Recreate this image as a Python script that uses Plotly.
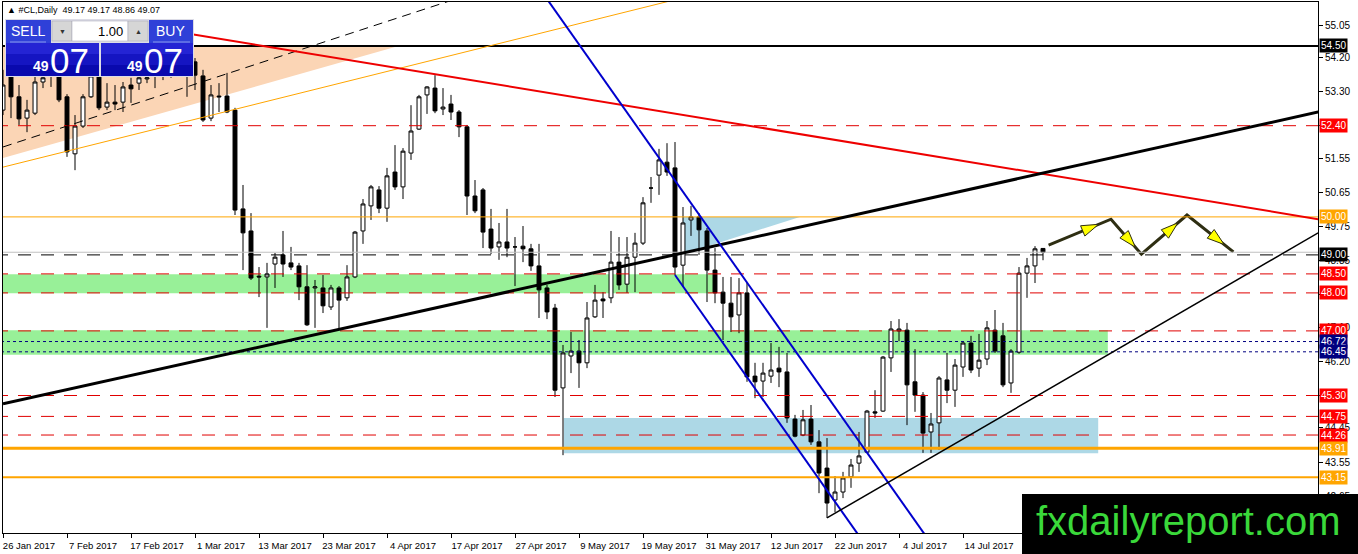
import math
import plotly.graph_objects as go

# daily bars, index 0 = 26 Jan 2017 (one bar per trading day)
opens = [52.81, 53.87, 53.16, 52.60, 52.73, 53.55, 53.97, 53.81, 53.16, 51.66,
         52.39, 53.16, 53.76, 52.89, 53.02, 53.02, 53.47, 53.52, 53.63, 53.87,
         53.73, 53.97, 53.87, 54.13, 54.08, 53.71, 52.60, 53.18, 53.18, 52.81,
         50.21, 49.63, 48.44, 48.42, 48.76, 49.00, 48.79, 48.71, 48.16, 48.13,
         48.13, 47.63, 48.13, 47.87, 48.42, 49.63, 50.29, 50.71, 50.23, 51.18,
         50.79, 51.68, 52.31, 53.21, 53.39, 52.84, 52.97, 52.76, 52.37, 50.55,
         50.71, 49.68, 49.21, 49.34, 49.21, 49.23, 49.16, 48.71, 48.13, 47.60,
         45.50, 46.34, 46.47, 46.16, 47.37, 47.84, 47.87, 48.81, 48.23, 48.94,
         49.31, 50.76, 51.10, 51.44, 51.29, 48.73, 49.92, 50.00, 49.63, 48.60,
         48.02, 47.73, 47.42, 48.00, 45.81, 45.68, 45.81, 46.02, 45.92, 44.68,
         44.26, 44.68, 44.08, 43.39, 42.55, 42.76, 43.16, 43.52, 43.81, 44.87,
         44.89, 46.29, 47.00, 47.02, 45.66, 45.31, 44.34, 44.58, 45.71, 45.44,
         46.05, 46.68, 46.02, 46.26, 47.02, 46.87, 45.63, 46.44, 48.52, 48.71,
         49.17]
highs = [53.87, 54.08, 53.47, 53.08, 53.73, 53.92, 54.13, 54.08, 53.23, 52.68,
         53.23, 53.92, 53.87, 53.52, 53.47, 53.55, 53.66, 53.81, 53.87, 54.00,
         54.08, 54.13, 54.26, 54.26, 54.18, 53.87, 53.47, 53.52, 53.79, 52.87,
         50.84, 50.10, 48.68, 48.79, 49.05, 49.63, 49.21, 48.79, 48.73, 48.34,
         48.47, 48.21, 48.18, 48.73, 49.63, 50.47, 50.84, 50.81, 51.29, 51.89,
         51.81, 52.94, 53.21, 53.44, 53.73, 53.39, 53.21, 52.81, 52.42, 50.97,
         50.76, 50.21, 49.84, 50.21, 49.47, 49.76, 49.29, 49.29, 48.21, 47.71,
         46.63, 46.97, 46.76, 47.76, 48.21, 48.02, 49.63, 49.47, 49.47, 49.58,
         50.52, 51.05, 51.79, 51.94, 51.97, 50.26, 50.29, 50.10, 49.71, 49.18,
         48.42, 48.42, 48.39, 48.26, 46.16, 46.16, 46.68, 46.58, 46.42, 44.79,
         44.92, 45.05, 44.39, 44.18, 43.18, 43.29, 43.63, 44.34, 44.92, 45.44,
         46.34, 47.26, 47.31, 47.21, 46.52, 45.39, 44.84, 45.81, 46.42, 46.26,
         46.73, 46.87, 46.92, 47.26, 47.55, 47.21, 46.52, 48.68, 48.92, 49.23,
         49.17]
lows = [52.68, 52.60, 52.42, 52.23, 52.68, 53.39, 53.42, 53.02, 51.58, 51.23,
        52.34, 53.13, 52.81, 52.81, 52.81, 52.76, 53.00, 53.34, 53.52, 53.39,
        53.60, 53.66, 53.73, 53.16, 53.34, 52.50, 52.52, 52.76, 52.73, 50.05,
        48.60, 48.34, 47.89, 47.08, 48.13, 48.42, 48.60, 47.81, 47.13, 47.08,
        47.47, 47.55, 47.02, 47.79, 48.39, 49.29, 49.92, 50.10, 49.87, 50.71,
        50.47, 51.50, 52.29, 52.71, 52.73, 52.68, 52.55, 52.10, 50.05, 50.10,
        49.18, 49.02, 48.87, 48.94, 48.18, 48.81, 48.58, 47.34, 47.31, 45.26,
        43.73, 45.89, 45.50, 46.02, 47.34, 47.34, 47.73, 48.08, 48.00, 48.02,
        49.26, 50.37, 50.58, 51.08, 48.47, 48.16, 49.50, 49.00, 47.76, 47.73,
        46.76, 46.97, 46.94, 45.66, 45.23, 45.26, 45.63, 45.52, 44.58, 44.20,
        44.23, 44.00, 42.73, 42.08, 42.23, 42.60, 42.87, 43.29, 43.79, 44.71,
        44.87, 45.92, 46.73, 44.52, 44.87, 43.79, 43.79, 43.87, 45.10, 45.00,
        45.79, 45.89, 45.79, 46.10, 46.42, 45.52, 45.37, 46.40, 47.87, 48.26,
        48.86]
closes = [53.47, 53.16, 52.58, 52.81, 53.55, 53.66, 53.71, 53.08, 51.71, 52.39,
          53.16, 53.71, 52.87, 53.02, 52.97, 53.42, 53.37, 53.66, 53.66, 53.76,
          53.92, 53.81, 54.08, 53.87, 53.73, 52.55, 53.21, 53.16, 52.76, 50.18,
          49.58, 48.39, 48.42, 48.50, 48.94, 48.76, 48.68, 48.16, 47.16, 48.16,
          47.66, 48.13, 47.81, 48.42, 49.60, 50.34, 50.79, 50.23, 51.08, 50.79,
          51.73, 52.26, 53.16, 53.42, 52.79, 52.89, 52.76, 52.37, 50.55, 50.16,
          49.60, 49.18, 49.34, 49.18, 49.21, 49.16, 48.71, 48.08, 47.50, 45.44,
          46.42, 46.47, 46.16, 47.34, 47.81, 47.79, 48.81, 48.21, 48.94, 49.31,
          50.37, 50.76, 51.50, 51.18, 48.68, 49.84, 50.00, 49.66, 48.60, 48.00,
          47.73, 47.37, 48.00, 45.79, 45.66, 45.89, 45.97, 45.92, 44.71, 44.23,
          44.66, 44.08, 43.26, 42.47, 42.76, 43.13, 43.47, 43.71, 44.89, 44.84,
          46.31, 47.05, 47.05, 45.58, 45.31, 44.31, 44.55, 45.76, 45.44, 46.10,
          46.68, 45.97, 46.23, 47.08, 46.47, 45.58, 46.47, 48.52, 48.71, 49.16,
          49.07]

date_ticks = [0, 8, 16, 24, 32, 40, 48, 56, 64, 72, 80, 88, 96, 104, 112, 120]
date_labels = ["26 Jan 2017", "7 Feb 2017", "17 Feb 2017", "1 Mar 2017", "13 Mar 2017",
               "23 Mar 2017", "4 Apr 2017", "17 Apr 2017", "27 Apr 2017", "9 May 2017",
               "19 May 2017", "31 May 2017", "12 Jun 2017", "22 Jun 2017", "4 Jul 2017",
               "14 Jul 2017"]
price_ticks = [55.05, 54.20, 53.30, 52.40, 51.55, 50.65, 49.75, 48.85, 47.95,
               47.10, 46.20, 45.30, 44.45, 43.55, 42.65]
hidden_ticks = [52.40, 47.95, 45.30]   # fully covered by level labels

# horizontal levels
resist_level = 54.50
red_levels = [52.40, 48.50, 48.00, 47.00, 45.30, 44.75, 44.26]
blue_levels = [46.72, 46.45]
orange_levels = [43.91, 43.15]
level_50 = 50.00
level_49 = 49.00
bid = 49.07

# drawn objects: (bar, price) end points
red_trend = [(20, 54.93), (164.4, 49.94)]
black_trend = [(0, 45.08), (164.4, 52.76)]
dash_trend = [(0, 51.84), (60, 55.97)]
orange_trend = [(0, 51.31), (90, 56.03)]
channel_a = [(66, 56.33), (116, 41.41)]
channel_b = [(84, 48.47), (108, 41.31)]
support_trend = [(103, 42.08), (164.4, 49.58)]
peach_tri = [(-1, 54.47), (49, 54.47), (-1, 51.49)]
cyan_tri = [(85, 50.00), (99.6, 50.00), (85, 49.02)]
green_zones = [(-1, 89, 47.99, 48.49), (-1, 138.1, 46.37, 47.02)]
cyan_zone = (70.1, 136.9, 43.78, 44.71)
path_x = [130.7, 138.5, 142.3, 148.0, 153.8]
path_y = [49.26, 49.94, 49.02, 50.05, 49.08]

W, H = 1358, 554
ML, MR, MT, MB = 3, 40, 2, 21
PW, PH = W - ML - MR, H - MT - MB
X_RANGE = [0, PW / 8.0]
Y_RANGE = [55.708 - (MT + PH) / 38.0, 55.708 - MT / 38.0]
FONT = "Liberation Sans, Arial, sans-serif"


def px(x):
    return (x - ML) / PW


def py(y):
    return (H - MB - y) / PH


fig = go.Figure()

fig.add_trace(go.Candlestick(
    x=list(range(len(opens))), open=opens, high=highs, low=lows, close=closes,
    increasing=dict(line=dict(color="black", width=1), fillcolor="white"),
    decreasing=dict(line=dict(color="black", width=1), fillcolor="black"),
    whiskerwidth=0, showlegend=False, hoverinfo="skip"))

# background zones
for x0, x1, y0, y1 in green_zones:
    fig.add_shape(type="rect", x0=x0, x1=x1, y0=y0, y1=y1, fillcolor="#98F098",
                  line_width=0, layer="below")
fig.add_shape(type="rect", x0=cyan_zone[0], x1=cyan_zone[1], y0=cyan_zone[2], y1=cyan_zone[3],
              fillcolor="#ADD8E6", line_width=0, layer="below")


def tri_path(pts):
    return "M " + " L ".join(f"{a},{b}" for a, b in pts) + " Z"


fig.add_shape(type="path", path=tri_path(peach_tri), fillcolor="#FBD5B5", line_width=0, layer="below")
fig.add_shape(type="path", path=tri_path(cyan_tri), fillcolor="#ADD8E6", line_width=0, layer="below")


# horizontal lines
def hline(level, color, width=1, dash="solid"):
    fig.add_shape(type="line", x0=X_RANGE[0] - 1, x1=X_RANGE[1] + 1, y0=level, y1=level,
                  line=dict(color=color, width=width, dash=dash))


for lv in red_levels:
    hline(lv, "#E00000", 1, "13px,10px")
for lv in blue_levels:
    hline(lv, "#000080", 1, "3px,3px")
hline(orange_levels[0], "#FFA500", 3)
hline(orange_levels[1], "#FFA500", 2)
hline(level_50, "#FFA500", 1)
hline(bid, "#C0C0C0", 1)
hline(level_49, "black", 1, "13px,10px")
hline(resist_level, "black", 2)


# trend lines
def seg(pts, color, width, dash="solid"):
    (a, b), (c, d) = pts
    fig.add_shape(type="line", x0=a, y0=b, x1=c, y1=d, line=dict(color=color, width=width, dash=dash))


seg(dash_trend, "black", 1, "9px,6px")
seg(orange_trend, "#FFA500", 1)
seg(red_trend, "#EE0000", 2)
seg(black_trend, "black", 3)
seg(channel_a, "#0000CD", 2)
seg(channel_b, "#0000CD", 2)
seg(support_trend, "black", 1.5)

# projected path with arrow heads
fig.add_trace(go.Scatter(x=path_x, y=path_y, mode="lines", line=dict(color="#2E2E12", width=3),
                         showlegend=False, hoverinfo="skip"))
hx, hy, ang = [], [], []
for i in range(len(path_x) - 1):
    dx, dy = path_x[i + 1] - path_x[i], path_y[i + 1] - path_y[i]
    hx.append(path_x[i] + 0.8 * dx)
    hy.append(path_y[i] + 0.8 * dy)
    ang.append(math.degrees(math.atan2(dx * 8, dy * 38)))
fig.add_trace(go.Scatter(x=hx, y=hy, mode="markers",
                         marker=dict(symbol="arrow", size=18, angle=ang, color="#FFFF00",
                                     line=dict(color="#2E2E12", width=1)),
                         showlegend=False, hoverinfo="skip"))

# right side price labels
label_colors = [(resist_level, "black"), (level_50, "#FFA500"), (level_49, "black")]
label_colors += [(lv, "#FF0000") for lv in red_levels]
label_colors += [(lv, "#000080") for lv in blue_levels]
label_colors += [(lv, "#FFA500") for lv in orange_levels]
for lv, col in label_colors:
    fig.add_annotation(x=1, xref="paper", y=lv, yref="y", xanchor="left", xshift=1,
                       text=f"{lv:.2f}", showarrow=False, bgcolor=col, borderpad=1,
                       font=dict(family=FONT, size=10, color="white"))

# header text
fig.add_annotation(x=px(5), y=py(10), xref="paper", yref="paper", xanchor="left", yanchor="middle",
                   text="▲ #CL,Daily  49.17 49.17 48.86 49.07", showarrow=False,
                   font=dict(family=FONT, size=9, color="black"))

# one-click trading panel
panel = [
    (5, 19, 194, 77, "#DCDCE6"),
    (6, 20, 51, 43, "#2F40D8"),
    (149, 20, 193, 43, "#2F40D8"),
    (6, 43, 99, 54, "#2424D4"), (6, 54, 99, 65, "#1515C2"), (6, 65, 99, 76, "#0909AE"),
    (101, 43, 193, 54, "#2424D4"), (101, 54, 193, 65, "#1515C2"), (101, 65, 193, 76, "#0909AE"),
    (52, 21, 72, 41, "#D6D6D6"),
    (72, 21, 128, 41, "white"),
    (128, 21, 148, 41, "#D6D6D6"),
]
for x0, y0, x1, y1, col in panel:
    edge = dict(color="#A0A0B0", width=0.5) if col in ("white", "#D6D6D6") else dict(width=0)
    fig.add_shape(type="rect", xref="paper", yref="paper", x0=px(x0), x1=px(x1), y0=py(y0), y1=py(y1),
                  fillcolor=col, line=edge)
for x0, x1 in [(10, 46), (153, 190)]:
    fig.add_shape(type="line", xref="paper", yref="paper", x0=px(x0), x1=px(x1), y0=py(42), y1=py(42),
                  line=dict(color="#8A98F0", width=1))

panel_text = [
    (28, 31, "SELL", 14, "white", "center"),
    (170, 31, "BUY", 14, "white", "center"),
    (62, 31, "▼", 7, "#333333", "center"),
    (138, 31, "▲", 7, "#333333", "center"),
    (125, 31, "1.00", 13, "black", "right"),
    (41, 66, "<b>49</b>", 14, "white", "center"),
    (69, 60, "07", 35, "white", "center"),
    (135, 66, "<b>49</b>", 14, "white", "center"),
    (163, 60, "07", 35, "white", "center"),
]
for x, y, t, s, c, anc in panel_text:
    fig.add_annotation(x=px(x), y=py(y), xref="paper", yref="paper", xanchor=anc, yanchor="middle",
                       text=t, showarrow=False, font=dict(family=FONT, size=s, color=c))

# watermark
fig.add_shape(type="rect", xref="paper", yref="paper", x0=px(1022), x1=px(1360), y0=py(494), y1=py(556),
              fillcolor="black", line_width=0)
fig.add_annotation(x=px(1188), y=py(521), xref="paper", yref="paper", text="fxdailyreport.com",
                   showarrow=False, xanchor="center", yanchor="middle",
                   font=dict(family=FONT, size=40, color="#3AD83A"))

fig.update_layout(
    width=W, height=H, margin=dict(l=ML, r=MR, t=MT, b=MB),
    paper_bgcolor="white", plot_bgcolor="white", showlegend=False,
    font=dict(family=FONT, color="black"),
    xaxis=dict(range=X_RANGE, rangeslider=dict(visible=False), showgrid=False, zeroline=False,
               tickvals=date_ticks, ticktext=date_labels, ticks="outside", ticklen=4,
               tickcolor="black", tickfont=dict(size=9.5), ticklabelshift=26,
               showline=True, linecolor="black", linewidth=1, mirror=True),
    yaxis=dict(range=Y_RANGE, side="right", showgrid=False, zeroline=False,
               tickvals=price_ticks,
               ticktext=["" if v in hidden_ticks else f"{v:.2f}" for v in price_ticks],
               ticks="outside", ticklen=4, tickcolor="black", tickfont=dict(size=10),
               showline=True, linecolor="black", linewidth=1, mirror=True),
)

# page body margin would offset the figure by 8px
fig.write_html("out.html", config={"displayModeBar": False},
               post_script="document.body.style.margin='0';")
